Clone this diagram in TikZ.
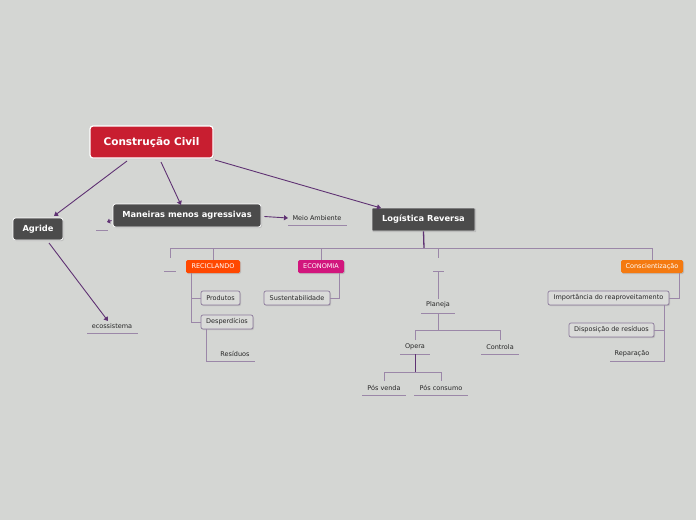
\documentclass[tikz,border=0pt]{standalone}
\usepackage{fontspec}
\setmainfont{DejaVu Sans}
\usetikzlibrary{arrows.meta,calc}
\definecolor{bg}{RGB}{212,214,211}
\definecolor{mainred}{RGB}{200,30,48}
\definecolor{darkbox}{RGB}{75,75,75}
\definecolor{recic}{RGB}{255,72,0}
\definecolor{econ}{RGB}{210,22,125}
\definecolor{consc}{RGB}{244,122,16}
\definecolor{lightbox}{RGB}{218,219,217}
\definecolor{lbord}{RGB}{140,122,155}
\definecolor{mainline}{RGB}{95,50,115}
\definecolor{subline}{RGB}{155,135,168}
\begin{document}
\begin{tikzpicture}[x=1pt,y=-1pt,
  shadowed/.style={preaction={fill=black!35,opacity=0.5,transform canvas={xshift=1pt,yshift=-1.2pt}}},
  rootbox/.style={shadowed,draw=white,line width=1.2pt,fill=mainred,rounded corners=3pt,text=white,font=\bfseries\fontsize{10.5}{12}\selectfont,minimum width=123pt,minimum height=32pt,inner sep=0pt},
  darkbox/.style={shadowed,draw=white,line width=0.8pt,fill=darkbox,rounded corners=2.5pt,text=white,font=\bfseries\fontsize{8.3}{9}\selectfont,inner sep=0pt},
  squarebox/.style={shadowed,draw=black!15,line width=0.8pt,fill=darkbox,rounded corners=0.5pt,text=white,font=\bfseries\fontsize{8.3}{9}\selectfont,inner sep=0pt},
  colbox/.style={shadowed,rounded corners=1.5pt,text=white,font=\fontsize{6.5}{7}\selectfont,inner sep=0pt,minimum height=13pt},
  litebox/.style={shadowed,draw=lbord,line width=0.7pt,fill=lightbox,rounded corners=2pt,text=black!85,font=\fontsize{6.5}{7}\selectfont,inner sep=0pt,minimum height=14pt},
  plain/.style={text=black!85,font=\fontsize{6.5}{7}\selectfont,inner sep=0pt},
  uline/.style={draw=subline,line width=0.8pt},
  mainc/.style={draw=mainline,line width=0.9pt},
  subc/.style={draw=subline,line width=0.9pt},
  arr/.style={mainc,-{Triangle[length=4pt,width=5pt]}}
]
\useasboundingbox (0,0) rectangle (696,520);
\fill[bg] (0,0) rectangle (696,520);

% main nodes
\node[rootbox] (root) at (151.5,142) {Construção Civil};
\node[darkbox,minimum width=50pt,minimum height=22pt] (agride) at (38,229) {Agride};
\node[darkbox,minimum width=148pt,minimum height=23pt] (maneiras) at (187,215.5) {Maneiras menos agressivas};
\node[squarebox,minimum width=103pt,minimum height=23pt] (logist) at (423.5,219.5) {Logística Reversa};

% floating text nodes
\node[plain] (meio) at (317,218) {Meio Ambiente};
\coordinate (meioL) at (288,218);
\draw[uline] (288,225.5) -- (347,225.5);
\node[plain] (ecos) at (112,326) {ecossistema};
\coordinate (ecosT) at (108,321);
\draw[uline] (87,333.5) -- (138,333.5);
\coordinate (blank1) at (107,222);
\draw[uline] (96,230) -- (108,230);

% arrows from root
\coordinate (agrT) at (54,216);
\draw[arr] (127,161) -- (agrT);
\draw[arr] (161,162) -- (181,205);
\draw[arr] (215,160) -- (381,208);
\draw[arr] (maneiras.east) ++(3,1) coordinate (mE) -- (meioL);
\draw[mainc,-{Triangle[length=3pt,width=5pt]}] (maneiras.west) ++(-1,5) coordinate(mW) -- (blank1);
\draw[arr] (49,243) -- (ecosT);

% level 2 under Logistica
\node[colbox,fill=recic,minimum width=54pt] (recic) at (213,266.5) {RECICLANDO};
\node[colbox,fill=econ,minimum width=46pt] (econ) at (321,266.5) {ECONOMIA};
\node[colbox,fill=consc,minimum width=62pt] (consc) at (652,266.5) {Conscientização};
\coordinate (blankA) at (170,271.5);
\draw[uline] (164,271.5) -- (176,271.5);
\coordinate (blankB) at (438,271.5);
\draw[uline] (433,271.5) -- (444,271.5);

\draw[mainline,line width=1.3pt] (logist.south) -- (424,248);
\draw[subc] (170,248) -- (652,248);
\draw[subc] (170,248) -- (170,258);
\draw[subc] (213,248) -- (recic.north);
\draw[subc] (321,248) -- (econ.north);
\draw[subc] (438,248) -- (438,258);
\draw[subc] (652,248) -- (consc.north);

% RECICLANDO children
\node[litebox,minimum width=39pt] (prod) at (220.5,298) {Produtos};
\node[litebox,minimum width=52pt] (desp) at (227,322) {Desperdícios};
\draw[subc] (191,273) -- (191,322) -- (desp.west);
\draw[subc] (191,298) -- (prod.west);
\node[plain] (resid) at (235,354) {Resíduos};
\draw[subc] (206,329) -- (206,361.5) -- (255,361.5);

% ECONOMIA child
\node[litebox,minimum width=66pt] (sust) at (297,298) {Sustentabilidade};
\draw[subc] (339,273) -- (339,298) -- (sust.east);

% Planeja subtree
\node[plain] (plan) at (438,305) {Planeja};
\draw[uline] (421,313) -- (455,313);
\draw[subc] (438,272) -- (438,299);
\node[plain] (opera) at (415,347) {Opera};
\draw[uline] (400,354) -- (430,354);
\node[plain] (contr) at (500,347) {Controla};
\draw[uline] (481,354) -- (519,354);
\draw[subc] (438,313) -- (438,330);
\draw[subc] (415,340) -- (415,330) -- (500,330) -- (500,340);
\node[plain] (posv) at (384,388) {Pós venda};
\draw[uline] (362,395.5) -- (406,395.5);
\node[plain] (posc) at (441,388) {Pós consumo};
\draw[uline] (414,395.5) -- (468,395.5);
\draw[mainline,line width=0.9pt] (415,354) -- (415,372);
\draw[subc] (384,381) -- (384,372) -- (441,372) -- (441,381);

% Conscientizacao subtree
\node[litebox,minimum width=121pt] (impor) at (608.5,298) {Importância do reaproveitamento};
\draw[subc] (679,273) -- (679,298) -- (impor.east);
\node[litebox,minimum width=85pt] (dispo) at (611.5,330) {Disposição de resíduos};
\node[plain] (repar) at (632,354) {Reparação};
\draw[subc] (664,305) -- (664,361.5) -- (610,361.5);
\draw[subc] (664,330) -- (dispo.east);
\end{tikzpicture}
\end{document}
